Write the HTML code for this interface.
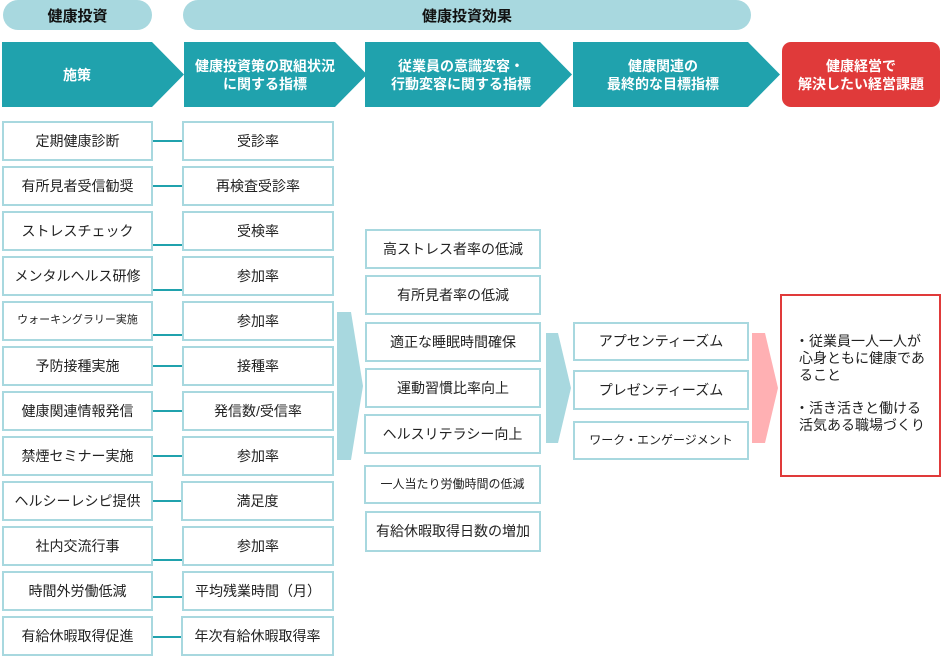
<!DOCTYPE html>
<html><head><meta charset="utf-8"><style>
*{margin:0;padding:0;box-sizing:border-box}
body{width:941px;height:658px;position:relative;background:#fff;font-family:"Liberation Sans","Noto Sans CJK JP",sans-serif;color:#222;overflow:hidden}
.b{position:absolute;border:2px solid #a8d8df;background:#fff;display:flex;align-items:center;justify-content:center;text-align:center;font-size:14px;line-height:1.2}
.h{position:absolute;display:flex;align-items:center;justify-content:center;text-align:center;color:#fff;font-weight:bold;font-size:14px;line-height:18px}
.p{position:absolute;background:#a8d8df;border-radius:15px;display:flex;align-items:center;justify-content:center;font-weight:bold;font-size:15px;color:#111}
svg{position:absolute;left:0;top:0}
</style></head><body>
<svg width="941" height="658">
<g fill="#20a2ad">
<polygon points="2,42 152,42 184,74.5 152,107 2,107"/>
<polygon points="184,42 335,42 367,74.5 335,107 184,107"/>
<polygon points="365,42 540,42 572,74.5 540,107 365,107"/>
<polygon points="573,42 748,42 780,74.5 748,107 573,107"/>
</g>
<rect x="782" y="42" width="158" height="65" rx="9" fill="#e03a3a"/>
<polygon points="337,312 351,312 363,386 351,460 337,460" fill="#a8d8df"/>
<polygon points="546,333 558,333 571,388 558,443 546,443" fill="#a8d8df"/>
<polygon points="752,333 765,333 778,388 765,443 752,443" fill="#ffb0b3"/>
<g stroke="#20a2ad" stroke-width="2">
<line x1="152" y1="141" x2="182" y2="141"/>
<line x1="152" y1="186" x2="182" y2="186"/>
<line x1="152" y1="245" x2="182" y2="245"/>
<line x1="152" y1="290" x2="182" y2="290"/>
<line x1="152" y1="335" x2="182" y2="335"/>
<line x1="152" y1="366" x2="182" y2="366"/>
<line x1="152" y1="411" x2="182" y2="411"/>
<line x1="152" y1="456" x2="182" y2="456"/>
<line x1="152" y1="501" x2="182" y2="501"/>
<line x1="152" y1="560" x2="182" y2="560"/>
<line x1="152" y1="597" x2="182" y2="597"/>
<line x1="152" y1="637" x2="182" y2="637"/>
</g>
</svg>
<div class="p" style="left:3px;top:0;width:149px;height:30px">健康投資</div>
<div class="p" style="left:183px;top:0;width:568px;height:30px">健康投資効果</div>
<div class="h" style="left:2px;top:42px;width:150px;height:65px">施策</div>
<div class="h" style="left:184px;top:42px;width:162px;height:65px">健康投資策の取組状況<br>に関する指標</div>
<div class="h" style="left:368px;top:42px;width:186px;height:65px">従業員の意識変容・<br>行動変容に関する指標</div>
<div class="h" style="left:573px;top:42px;width:180px;height:65px">健康関連の<br>最終的な目標指標</div>
<div class="h" style="left:782px;top:42px;width:158px;height:65px">健康経営で<br>解決したい経営課題</div>

<div class="b" style="left:2px;top:121px;width:151px;height:40px">定期健康診断</div>
<div class="b" style="left:2px;top:166px;width:151px;height:40px">有所見者受信勧奨</div>
<div class="b" style="left:2px;top:211px;width:151px;height:40px">ストレスチェック</div>
<div class="b" style="left:2px;top:256px;width:151px;height:40px">メンタルヘルス研修</div>
<div class="b" style="left:2px;top:301px;width:151px;height:40px;font-size:11px">ウォーキングラリー実施</div>
<div class="b" style="left:2px;top:346px;width:151px;height:40px">予防接種実施</div>
<div class="b" style="left:2px;top:391px;width:151px;height:40px">健康関連情報発信</div>
<div class="b" style="left:2px;top:436px;width:151px;height:40px">禁煙セミナー実施</div>
<div class="b" style="left:2px;top:481px;width:151px;height:40px">ヘルシーレシピ提供</div>
<div class="b" style="left:2px;top:526px;width:151px;height:40px">社内交流行事</div>
<div class="b" style="left:2px;top:571px;width:151px;height:40px">時間外労働低減</div>
<div class="b" style="left:2px;top:616px;width:151px;height:40px">有給休暇取得促進</div>

<div class="b" style="left:182px;top:121px;width:152px;height:40px">受診率</div>
<div class="b" style="left:182px;top:166px;width:152px;height:40px">再検査受診率</div>
<div class="b" style="left:182px;top:211px;width:152px;height:40px">受検率</div>
<div class="b" style="left:182px;top:256px;width:152px;height:40px">参加率</div>
<div class="b" style="left:182px;top:301px;width:152px;height:40px">参加率</div>
<div class="b" style="left:182px;top:346px;width:152px;height:40px">接種率</div>
<div class="b" style="left:182px;top:391px;width:152px;height:40px">発信数/受信率</div>
<div class="b" style="left:182px;top:436px;width:152px;height:40px">参加率</div>
<div class="b" style="left:181px;top:481px;width:153px;height:40px">満足度</div>
<div class="b" style="left:182px;top:526px;width:152px;height:40px">参加率</div>
<div class="b" style="left:182px;top:571px;width:152px;height:40px">平均残業時間（月）</div>
<div class="b" style="left:181px;top:616px;width:153px;height:40px">年次有給休暇取得率</div>

<div class="b" style="left:365px;top:229px;width:176px;height:40px">高ストレス者率の低減</div>
<div class="b" style="left:365px;top:275px;width:176px;height:40px">有所見者率の低減</div>
<div class="b" style="left:365px;top:322px;width:176px;height:40px">適正な睡眠時間確保</div>
<div class="b" style="left:365px;top:368px;width:176px;height:40px">運動習慣比率向上</div>
<div class="b" style="left:364px;top:414px;width:177px;height:40px">ヘルスリテラシー向上</div>
<div class="b" style="left:364px;top:465px;width:177px;height:39px;font-size:12px">一人当たり労働時間の低減</div>
<div class="b" style="left:365px;top:511px;width:176px;height:41px">有給休暇取得日数の増加</div>

<div class="b" style="left:573px;top:322px;width:176px;height:39px">アプセンティーズム</div>
<div class="b" style="left:573px;top:370px;width:176px;height:40px">プレゼンティーズム</div>
<div class="b" style="left:573px;top:421px;width:176px;height:39px;font-size:12px">ワーク・エンゲージメント</div>

<div style="position:absolute;left:780px;top:294px;width:161px;height:183px;border:2px solid #e03a3a;font-size:14px;line-height:17px;padding:37px 12px 0 17px">
<div style="text-indent:-4px">・従業員一人一人が心身ともに健康であること</div>
<div style="text-indent:-4px;margin-top:16px">・活き活きと働ける活気ある職場づくり</div>
</div>
</body></html>
